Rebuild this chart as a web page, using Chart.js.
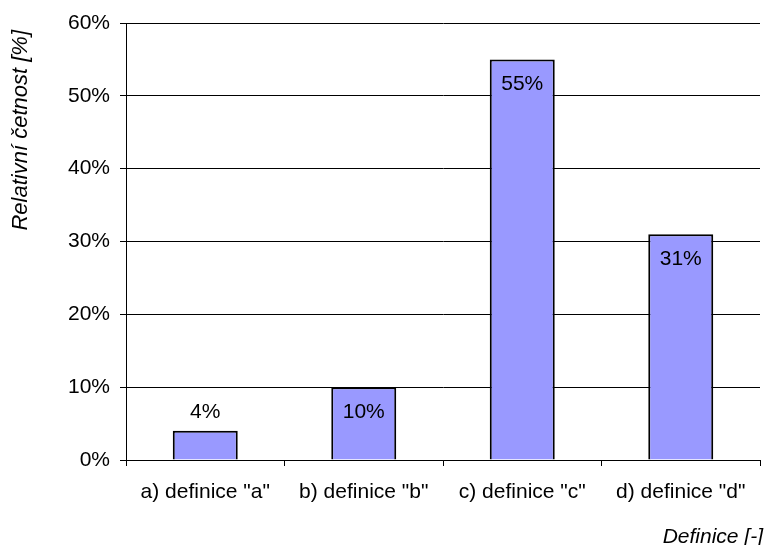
<!DOCTYPE html>
<html>
<head>
<meta charset="utf-8">
<script src="https://cdn.jsdelivr.net/npm/chart.js@4.4.1/dist/chart.umd.min.js"></script>
<style>
  html, body { margin: 0; padding: 0; background: #fff; }
  #wrap { width: 768px; height: 545px; position: relative; }
</style>
</head>
<body>
<div id="wrap"><canvas id="c" width="768" height="545"></canvas></div>
<script>
// Relative frequency of each definition (percent)
const categories = ['a) definice "a"', 'b) definice "b"', 'c) definice "c"', 'd) definice "d"'];
const values = [4, 10, 55, 31];
const yTicks = [0, 10, 20, 30, 40, 50, 60];
const xTitle = 'Definice [-]';
const yTitle = 'Relativní četnost [%]';

const FONT = '"Liberation Sans", Arial, sans-serif';
const SIZE = 21;

// Value labels: above the bar when it is too short, otherwise inside near the top
const valueLabels = {
  id: 'valueLabels',
  afterDatasetsDraw(chart) {
    const ctx = chart.ctx;
    const meta = chart.getDatasetMeta(0);
    ctx.save();
    ctx.font = SIZE + 'px ' + FONT;
    ctx.fillStyle = '#000';
    ctx.textAlign = 'center';
    ctx.textBaseline = 'middle';
    meta.data.forEach((bar, i) => {
      const v = values[i];
      const h = bar.base - bar.y;
      const y = h < 40 ? bar.y - 19 : bar.y + 25;
      ctx.fillText(v + '%', bar.x, y);
    });
    ctx.restore();
  }
};

// Axis titles: x title right-aligned under the axis, y title rotated near the top
const axisTitles = {
  id: 'axisTitles',
  afterDraw(chart) {
    const ctx = chart.ctx;
    const area = chart.chartArea;
    ctx.save();
    ctx.font = 'italic ' + SIZE + 'px ' + FONT;
    ctx.fillStyle = '#000';
    ctx.textBaseline = 'middle';
    ctx.textAlign = 'right';
    ctx.fillText(xTitle, area.right + 3, 537);
    ctx.font = 'italic 22px ' + FONT;
    ctx.translate(21, area.top + 7);
    ctx.rotate(-Math.PI / 2);
    ctx.textAlign = 'right';
    ctx.fillText(yTitle, 0, 0);
    ctx.restore();
  }
};

new Chart(document.getElementById('c'), {
  type: 'bar',
  data: {
    labels: categories,
    datasets: [{
      data: values,
      backgroundColor: '#9999ff',
      borderColor: '#000',
      borderWidth: 2,
      borderSkipped: 'bottom',
      barPercentage: 0.41,
      categoryPercentage: 1.0
    }]
  },
  options: {
    responsive: false,
    animation: false,
    devicePixelRatio: 1,
    layout: { padding: { top: 23, right: 8, left: 0, bottom: 0 } },
    plugins: {
      legend: { display: false },
      tooltip: { enabled: false }
    },
    scales: {
      x: {
        offset: true,
        grid: {
          offset: true,
          drawOnChartArea: false,
          drawTicks: true,
          tickLength: 6,
          color: '#000',
          lineWidth: 1
        },
        border: { color: '#000', width: 1 },
        ticks: {
          color: '#000',
          font: { family: FONT, size: SIZE },
          padding: 14,
          maxRotation: 0,
          autoSkip: false
        },
        afterFit(scale) { scale.height = 85; }
      },
      y: {
        min: 0,
        max: 60,
        afterBuildTicks(scale) { scale.ticks = yTicks.map(v => ({ value: v })); },
        grid: {
          color: '#000',
          lineWidth: 1,
          drawTicks: true,
          tickLength: 6
        },
        border: { color: '#000', width: 1 },
        ticks: {
          color: '#000',
          font: { family: FONT, size: SIZE },
          padding: 10,
          callback: v => v + '%'
        },
        afterFit(scale) { scale.width = 126; }
      }
    }
  },
  plugins: [valueLabels, axisTitles]
});
</script>
</body>
</html>
